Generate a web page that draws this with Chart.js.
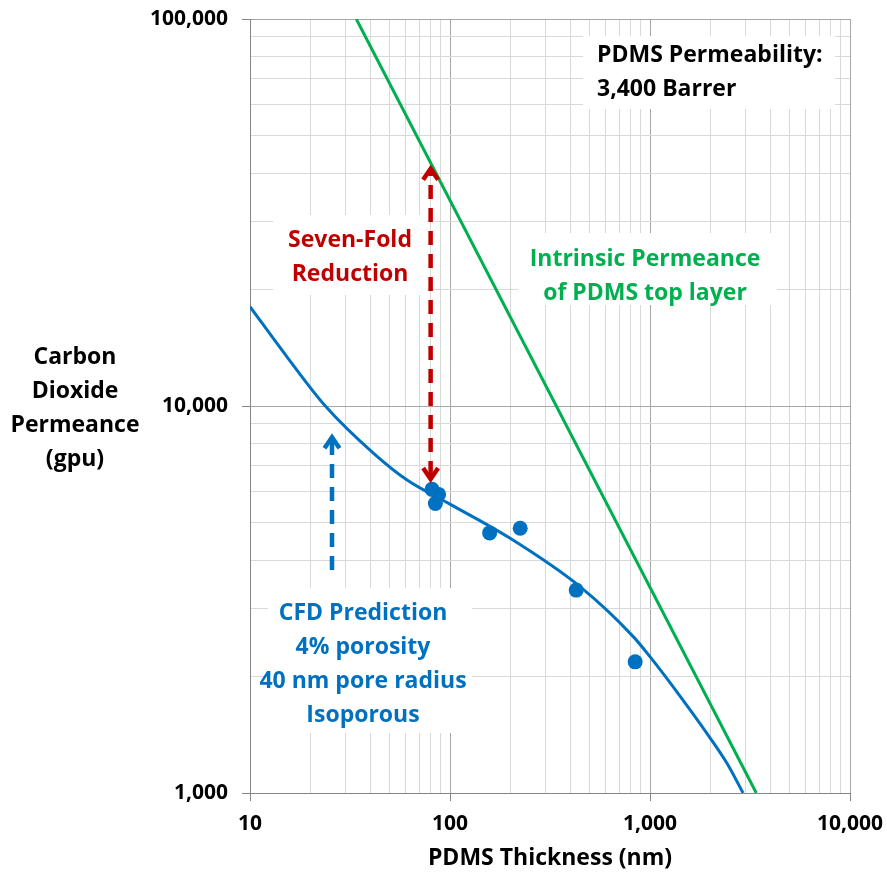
<!DOCTYPE html>
<html>
<head>
<meta charset="utf-8">
<script src="https://cdn.jsdelivr.net/npm/chart.js@4.4.0/dist/chart.umd.min.js"></script>
<style>
  html, body { margin: 0; padding: 0; background: #fff; }
</style>
</head>
<body>
<canvas id="grafico" width="887" height="876"></canvas>
<script>
// CFD prediction curve (thickness in nm, permeance in gpu)
const curvaX = [10, 15.3, 23.8, 41.5, 61, 98.4, 200, 448, 827, 1002, 1416, 2000, 2450, 2920];
const curvaY = [18060, 13400, 10000, 7545, 6437, 5603, 4550, 3409, 2532, 2247, 1777, 1386, 1183, 1000];

// measured membranes
const medidoX = [81.3, 87.7, 84.5, 157.8, 224.4, 427.6, 843];
const medidoY = [6090, 5910, 5600, 4700, 4830, 3344, 2182];

// intrinsic permeance of the PDMS layer (3,400 Barrer / thickness)
const intrinsecoX = [34, 3400];
const intrinsecoY = [100000, 1000];

// arrows
const setaVermelhaX = 80;
const setaVermelhaY = [6400, 41500];
const setaAzulX = 25.7;
const setaAzulY = [3770, 8400];

// axis ticks
const xDecadas = [10, 100, 1000, 10000];
const xRotulos = ['10', '100', '1,000', '10,000'];
const yDecadas = [1000, 10000, 100000];
const yRotulos = ['1,000', '10,000', '100,000'];

const AZUL = '#0070c0';
const VERDE = '#00b050';
const VERMELHO = '#c00000';
const FONTE = "'Open Sans', 'DejaVu Sans', sans-serif";

function ticksLog(decadas) {
    const t = [];
    for (let i = 0; i < decadas.length - 1; i++) {
        for (let k = 1; k < 10; k++) t.push({ value: decadas[i] * k });
    }
    t.push({ value: decadas[decadas.length - 1] });
    return t;
}

const principal = (tick, decadas) => tick && decadas.some(d => Math.abs(d - tick.value) < 1e-6);

const caixas = [
    { linhas: ['PDMS Permeability:', '3,400 Barrer'], cor: '#000', x: 597, y: 55, align: 'left', box: [583, 36, 252, 73] },
    { linhas: ['Seven-Fold', 'Reduction'], cor: VERMELHO, x: 350, y: 240, align: 'center', box: [273, 215, 154, 80] },
    { linhas: ['Intrinsic Permeance', 'of PDMS top layer'], cor: VERDE, x: 645, y: 259, align: 'center', box: [518, 233, 259, 72] },
    { linhas: ['CFD Prediction', '4% porosity', '40 nm pore radius', 'Isoporous'], cor: AZUL, x: 363, y: 613, align: 'center', box: [268, 588, 204, 145] }
];

function seta(ctx, x, yBase, yPonta, cor, duasPontas) {
    ctx.save();
    ctx.strokeStyle = cor;
    ctx.lineWidth = 4.5;
    ctx.setLineDash([14, 9]);
    ctx.beginPath();
    ctx.moveTo(x, duasPontas ? yBase - 6 : yBase);
    ctx.lineTo(x, yPonta + 6);
    ctx.stroke();
    ctx.setLineDash([]);
    ctx.lineJoin = 'miter';
    const ponta = (yt, dir) => {
        ctx.beginPath();
        ctx.moveTo(x - 7.5, yt + dir * 13);
        ctx.lineTo(x, yt + dir * 2);
        ctx.lineTo(x + 7.5, yt + dir * 13);
        ctx.stroke();
    };
    ponta(yPonta, 1);
    if (duasPontas) ponta(yBase, -1);
    ctx.restore();
}

const anotacoes = {
    id: 'anotacoes',
    beforeDatasetsDraw(chart) {
        const ctx = chart.ctx;
        ctx.save();
        ctx.fillStyle = '#fff';
        caixas.forEach(c => ctx.fillRect(c.box[0], c.box[1], c.box[2], c.box[3]));
        ctx.restore();
    },
    afterDatasetsDraw(chart) {
        const ctx = chart.ctx;
        const sx = chart.scales.x, sy = chart.scales.y;
        ctx.save();
        ctx.font = 'bold 23px ' + FONTE;
        ctx.textBaseline = 'middle';
        caixas.forEach(c => {
            ctx.fillStyle = c.cor;
            ctx.textAlign = c.align;
            c.linhas.forEach((l, i) => ctx.fillText(l, c.x, c.y + i * 34));
        });
        // y axis title, horizontal
        ctx.fillStyle = '#000';
        ctx.textAlign = 'center';
        ['Carbon', 'Dioxide', 'Permeance', '(gpu)'].forEach((l, i) => ctx.fillText(l, 75, 357 + i * 34));
        ctx.restore();

        seta(ctx, sx.getPixelForValue(setaVermelhaX), sy.getPixelForValue(setaVermelhaY[0]),
            sy.getPixelForValue(setaVermelhaY[1]), VERMELHO, true);
        seta(ctx, sx.getPixelForValue(setaAzulX), sy.getPixelForValue(setaAzulY[0]),
            sy.getPixelForValue(setaAzulY[1]), AZUL, false);
    }
};

const fonteTicks = { family: FONTE, weight: 'bold', size: 21 };

new Chart(document.getElementById('grafico'), {
    type: 'scatter',
    data: {
        datasets: [
            {
                data: medidoX.map((x, i) => ({ x, y: medidoY[i] })),
                backgroundColor: AZUL,
                borderWidth: 0,
                pointRadius: 7.5
            },
            {
                data: curvaX.map((x, i) => ({ x, y: curvaY[i] })),
                showLine: true,
                borderColor: AZUL,
                borderWidth: 3,
                pointRadius: 0,
                cubicInterpolationMode: 'monotone'
            },
            {
                data: intrinsecoX.map((x, i) => ({ x, y: intrinsecoY[i] })),
                showLine: true,
                borderColor: VERDE,
                borderWidth: 3,
                pointRadius: 0
            }
        ]
    },
    options: {
        responsive: false,
        animation: false,
        layout: { padding: { top: 19, right: 37, left: 0, bottom: 0 } },
        plugins: { legend: { display: false }, tooltip: { enabled: false } },
        scales: {
            x: {
                type: 'logarithmic',
                min: 10,
                max: 10000,
                afterBuildTicks: s => { s.ticks = ticksLog(xDecadas); },
                afterFit: s => { s.height = 83; s.paddingLeft = 0; s.paddingRight = 0; },
                ticks: {
                    autoSkip: false,
                    maxRotation: 0,
                    padding: 10,
                    color: '#000',
                    font: fonteTicks,
                    callback: v => { const i = xDecadas.indexOf(v); return i >= 0 ? xRotulos[i] : ''; }
                },
                grid: {
                    color: c => principal(c.tick, xDecadas) ? '#a6a6a6' : '#d9d9d9',
                    tickColor: c => principal(c.tick, xDecadas) ? '#868686' : 'rgba(0,0,0,0)',
                    tickLength: 8
                },
                border: { color: '#868686' },
                title: {
                    display: true,
                    text: 'PDMS Thickness (nm)',
                    color: '#000',
                    font: { family: FONTE, weight: 'bold', size: 23 },
                    padding: { top: 0, bottom: 4 }
                }
            },
            y: {
                type: 'logarithmic',
                min: 1000,
                max: 100000,
                afterBuildTicks: s => { s.ticks = ticksLog(yDecadas); },
                afterFit: s => { s.width = 250; s.paddingTop = 0; s.paddingBottom = 0; },
                ticks: {
                    autoSkip: false,
                    padding: 14,
                    color: '#000',
                    font: fonteTicks,
                    callback: v => { const i = yDecadas.indexOf(v); return i >= 0 ? yRotulos[i] : ''; }
                },
                grid: {
                    color: c => principal(c.tick, yDecadas) ? '#a6a6a6' : '#d9d9d9',
                    tickColor: c => principal(c.tick, yDecadas) ? '#868686' : 'rgba(0,0,0,0)',
                    tickLength: 8
                },
                border: { color: '#868686' }
            }
        }
    },
    plugins: [anotacoes]
});
</script>
</body>
</html>
